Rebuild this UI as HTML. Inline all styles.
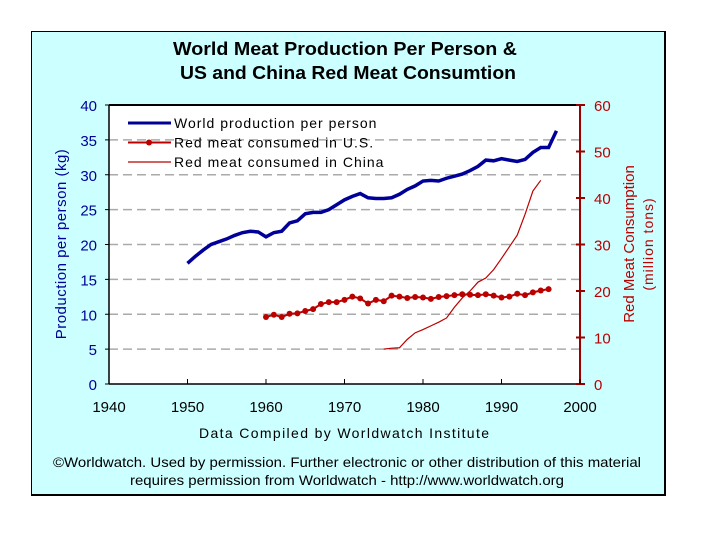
<!DOCTYPE html>
<html><head><meta charset="utf-8"><style>
body{margin:0;width:720px;height:540px;background:#fff;overflow:hidden;font-family:"Liberation Sans",sans-serif}
#panel{position:absolute;left:31px;top:31px;width:632px;height:462px;background:#ccffff;border:1px solid #000;border-right:2px solid #000;border-bottom:2px solid #000}
svg{position:absolute;left:0;top:0}
</style></head><body>
<div id="panel"></div>
<svg id="chart" width="720" height="540"></svg>
<script>
const years = [1950,1951,1952,1953,1954,1955,1956,1957,1958,1959,1960,1961,1962,1963,1964,1965,1966,1967,1968,1969,1970,1971,1972,1973,1974,1975,1976,1977,1978,1979,1980,1981,1982,1983,1984,1985,1986,1987,1988,1989,1990,1991,1992,1993,1994,1995,1996,1997];
const worldKg = [17.3,18.3,19.2,20,20.4,20.8,21.3,21.7,21.9,21.8,21.1,21.7,21.9,23.1,23.4,24.4,24.6,24.6,25,25.7,26.4,26.9,27.3,26.7,26.6,26.6,26.7,27.2,27.9,28.4,29.1,29.2,29.1,29.5,29.8,30.1,30.6,31.2,32.1,32,32.3,32.1,31.9,32.2,33.2,33.9,33.9,36.3];
const usYears = [1960,1961,1962,1963,1964,1965,1966,1967,1968,1969,1970,1971,1972,1973,1974,1975,1976,1977,1978,1979,1980,1981,1982,1983,1984,1985,1986,1987,1988,1989,1990,1991,1992,1993,1994,1995,1996];
const usTons = [14.4,14.9,14.4,15.1,15.2,15.7,16.1,17.2,17.6,17.6,18.1,18.8,18.4,17.3,18.1,17.8,19.0,18.8,18.5,18.7,18.6,18.3,18.7,18.9,19.1,19.3,19.2,19.1,19.3,19.0,18.6,18.8,19.4,19.1,19.7,20.1,20.4];
const chinaYears = [1975,1976,1977,1978,1979,1980,1981,1982,1983,1984,1985,1986,1987,1988,1989,1990,1991,1992,1993,1994,1995];
const chinaTons = [7.5,7.7,7.8,9.6,11.0,11.7,12.5,13.3,14.2,16.5,18.5,20.0,21.9,22.8,24.6,27.0,29.5,32.0,36.5,41.5,43.8];
const xTicks = [1940,1950,1960,1970,1980,1990,2000];
const leftTicks = [0,5,10,15,20,25,30,35,40];
const rightTicks = [0,10,20,30,40,50,60];

const X0=109,X1=580,Y0=384,Y1=105;
const xs=y=>X0+(y-1940)/60*(X1-X0);
const yl=v=>Y0-v/40*(Y0-Y1);
const yr=v=>Y0-v/60*(Y0-Y1);
const svg=document.getElementById('chart');
const NS='http://www.w3.org/2000/svg';
function mk(tag,attrs,txt){const e=document.createElementNS(NS,tag);for(const k in attrs)e.setAttribute(k,attrs[k]);if(txt!=null)e.textContent=txt;svg.appendChild(e);return e;}
const BLUE='#000099',RED='#bb0000';
let e;
e=mk('rect',{x:X0,y:Y1,width:X1-X0,height:Y0-Y1,fill:'#fff'});


leftTicks.forEach(v=>{if(v===0||v===40)return;
 e=mk('line',{x1:X0,x2:X1,y1:yl(v),y2:yl(v),stroke:'#aaa','stroke-width':1.5,'stroke-dasharray':'9,5'});
 
 
});
e=mk('line',{x1:X0,x2:X1,y1:Y1,y2:Y1,stroke:'#000','stroke-width':2});


e=mk('line',{x1:X0,x2:X0,y1:Y1,y2:Y0,stroke:'#000','stroke-width':1.5});


e=mk('line',{x1:X0,x2:X1,y1:Y0,y2:Y0,stroke:'#000','stroke-width':1.5});


e=mk('line',{x1:X1,x2:X1,y1:Y1,y2:Y0,stroke:'#990000','stroke-width':2});


leftTicks.forEach(v=>{
 mk('line',{x1:X0-4,x2:X0,y1:yl(v),y2:yl(v),stroke:'#000'});
 e=mk('text',{x:X0-12,y:yl(v)+6,'text-anchor':'end','font-size':15,fill:BLUE},v);
 
 
});
rightTicks.forEach(v=>{
 mk('line',{x1:X1-4,x2:X1+5,y1:yr(v),y2:yr(v),stroke:'#990000','stroke-width':2});
 e=mk('text',{x:X1+14,y:yr(v)+6,'font-size':15,fill:RED},v);
 
 
});
xTicks.forEach(v=>{
 mk('line',{x1:xs(v),x2:xs(v),y1:Y0-5,y2:Y0,stroke:'#000'});
 e=mk('text',{x:xs(v),y:Y0+28,'text-anchor':'middle','font-size':15,fill:'#000'},v);
 
 
});
e=mk('polyline',{points:chinaYears.map((y,i)=>xs(y)+','+yr(chinaTons[i])).join(' '),fill:'none',stroke:RED,'stroke-width':1.2});


e=mk('polyline',{points:usYears.map((y,i)=>xs(y)+','+yr(usTons[i])).join(' '),fill:'none',stroke:RED,'stroke-width':2});


usYears.forEach((y,i)=>{
 e=mk('circle',{cx:xs(y),cy:yr(usTons[i]),r:3,fill:RED});
 
 
});
e=mk('polyline',{points:years.map((y,i)=>xs(y)+','+yl(worldKg[i])).join(' '),fill:'none',stroke:BLUE,'stroke-width':3.5});


const L=[['World production per person',BLUE,3,false],['Red meat consumed in U.S.',RED,2,true],['Red meat consumed in China',RED,1.2,false]];
L.forEach((l,i)=>{const y=123+i*19.5;
 const g=document.createElementNS(NS,'g');svg.appendChild(g);
 
 
 const ln=document.createElementNS(NS,'line');
 [['x1',128],['x2',171],['y1',y],['y2',y],['stroke',l[1]],['stroke-width',l[2]]].forEach(a=>ln.setAttribute(a[0],a[1]));g.appendChild(ln);
 if(l[3]){const c=document.createElementNS(NS,'circle');c.setAttribute('cx',149);c.setAttribute('cy',y);c.setAttribute('r',3);c.setAttribute('fill',RED);g.appendChild(c);}
 const t=document.createElementNS(NS,'text');t.setAttribute('x',174);t.setAttribute('y',y+5);t.setAttribute('font-size',14);t.setAttribute('letter-spacing','1');t.textContent=l[0];g.appendChild(t);
});
e=mk('text',{x:345,y:55,'text-anchor':'middle','font-size':18,'font-weight':'bold',textLength:344,lengthAdjust:'spacingAndGlyphs'},'World Meat Production Per Person &');


e=mk('text',{x:348,y:79,'text-anchor':'middle','font-size':18,'font-weight':'bold',textLength:336,lengthAdjust:'spacingAndGlyphs'},'US and China Red Meat Consumtion');


e=mk('text',{x:0,y:0,'text-anchor':'middle','font-size':15,fill:BLUE,transform:'translate(66,244) rotate(-90)','letter-spacing':'0.5'},'Production per person (kg)');


e=mk('text',{x:0,y:0,'text-anchor':'middle','font-size':15,fill:RED,transform:'translate(634,244) rotate(-90)'},'Red Meat Consumption');


e=mk('text',{x:0,y:0,'text-anchor':'middle','font-size':14,fill:RED,transform:'translate(653,244) rotate(-90)','letter-spacing':'1'},'(million tons)');


e=mk('text',{x:344,y:438,'text-anchor':'middle','font-size':14,textLength:290},'Data Compiled by Worldwatch Institute');


e=mk('text',{x:347,y:467,'text-anchor':'middle','font-size':14,textLength:588,lengthAdjust:'spacingAndGlyphs'},'©Worldwatch. Used by permission. Further electronic or other distribution of this material');


e=mk('text',{x:347,y:485,'text-anchor':'middle','font-size':14,textLength:434,lengthAdjust:'spacingAndGlyphs'},'requires permission from Worldwatch - http://www.worldwatch.org');


</script>
</body></html>
